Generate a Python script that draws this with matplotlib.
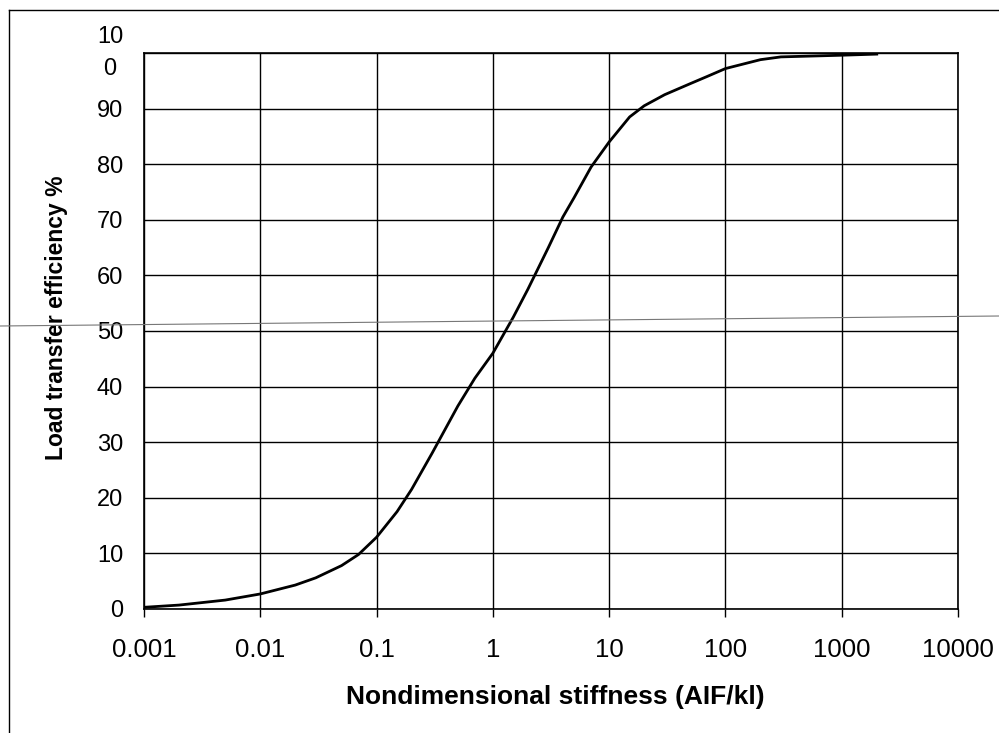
import numpy as np
import matplotlib
matplotlib.use('Agg')
import matplotlib.pyplot as plt
import matplotlib.transforms as mtransforms
from matplotlib.lines import Line2D

# curve
stiffness = [0.001, 0.002, 0.005, 0.01, 0.02, 0.03, 0.05, 0.07, 0.1, 0.15, 0.2,
             0.3, 0.5, 0.7, 1, 1.5, 2, 3, 4, 5, 7, 10, 15, 20, 30, 50, 70,
             100, 200, 300, 1000, 2000]
lte = [0.3, 0.7, 1.6, 2.7, 4.3, 5.6, 7.8, 9.8, 12.9, 17.5, 21.5,
       28.0, 36.5, 41.5, 46.0, 52.5, 57.5, 65.0, 70.5, 74.0, 79.5, 84.0, 88.5, 90.5, 92.5, 94.5, 95.8,
       97.2, 98.8, 99.3, 99.6, 99.8]

xticks = [0.001, 0.01, 0.1, 1, 10, 100, 1000, 10000]
xticklabels = ['0.001', '0.01', '0.1', '1', '10', '100', '1000', '10000']
yticks = [0, 10, 20, 30, 40, 50, 60, 70, 80, 90, 100]
yticklabels = ['0', '10', '20', '30', '40', '50', '60', '70', '80', '90', '10\n0']

plt.rcParams['font.family'] = ['Liberation Sans', 'DejaVu Sans']

fig = plt.figure(figsize=(9.99, 7.33), dpi=100)
ax = fig.add_axes([0.1441, 0.1692, 0.959 - 0.1441, 0.9277 - 0.1692])

ax.plot(stiffness, lte, color='black', lw=2.0, zorder=3)

ax.set_xscale('log')
ax.set_xlim(0.001, 10000)
ax.set_ylim(0, 100)
ax.set_xticks(xticks)
ax.set_xticklabels(xticklabels)
ax.xaxis.set_minor_locator(matplotlib.ticker.NullLocator())
ax.set_yticks(yticks)
ax.set_yticklabels(yticklabels, multialignment='center', linespacing=1.55)

ax.grid(True, color='black', lw=1.0)
for sp in ax.spines.values():
    sp.set_color('black')
    sp.set_linewidth(1.2)

ax.tick_params(axis='x', direction='out', length=6, width=1.0, pad=15, labelsize=18.5)
ax.tick_params(axis='y', length=0, pad=15, labelsize=17)

# the wrapped "100" label sits a little higher in the scan
top_lbl = ax.get_yticklabels()[-1]
top_lbl.set_transform(top_lbl.get_transform()
                      + mtransforms.ScaledTranslation(0, 7 / 100, fig.dpi_scale_trans))

ax.set_xlabel('Nondimensional stiffness (AIF/kl)', fontsize=19, fontweight='bold')
ax.set_ylabel('Load transfer efficiency %', fontsize=16.5, fontweight='bold')
ax.xaxis.set_label_coords(0.505, -0.158)
ax.xaxis.label.set_va('center')
ax.yaxis.set_label_coords(-0.107, 0.523)
ax.yaxis.label.set_va('center')

# scan artefacts: outer frame and a stray thin line
fig.add_artist(Line2D([9 / 999, 9 / 999], [0, 1 - 10 / 733], color='black', lw=1.0))
fig.add_artist(Line2D([9 / 999, 1], [1 - 10 / 733, 1 - 10 / 733], color='black', lw=1.0))
fig.add_artist(Line2D([0, 1], [1 - 326 / 733, 1 - 316 / 733], color='#777777', lw=0.8))

fig.savefig('out.png', dpi=100)
